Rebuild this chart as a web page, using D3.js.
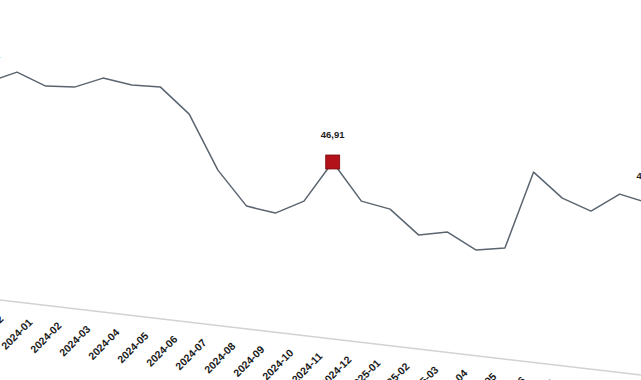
<!DOCTYPE html>
<html><head><meta charset="utf-8">
<script src="https://cdn.jsdelivr.net/npm/d3@7"></script>
<style>html,body{margin:0;padding:0;background:#fff;overflow:hidden}</style>
</head><body>
<svg id="c" width="641" height="380"></svg>
<script>
const months = ["2023-11","2023-12","2024-01","2024-02","2024-03","2024-04","2024-05","2024-06","2024-07","2024-08","2024-09","2024-10","2024-11","2024-12","2025-01","2025-02","2025-03","2025-04","2025-05","2025-06","2025-07","2025-08","2025-09","2025-10"];
const values = [54.91,55.9,54.5,54.4,55.3,54.6,54.4,51.7,46.1,42.5,41.8,43.0,46.91,43.0,42.2,39.6,39.9,38.1,38.3,45.9,43.3,42.0,43.7,42.8];
const labelled = ["2023-11","2024-11","2025-10"];
const highlight = ["2024-11"];

const svg = d3.select("#c");
const x = d3.scalePoint().domain(months).range([-11.7, 648.4]);
const y = d3.scaleLinear().domain([30, 60]).range([331.1, 31.1]);
const fmt = v => d3.format(".2f")(v).replace(".", ",");
const data = months.map((m, i) => ({m, v: values[i]}));

// axis (tilted)
const ax = d3.scalePoint().domain(months).range([-22.9, 648.7]);
const axisG = svg.append("g").attr("transform", "translate(0,300) rotate(6.68)");
axisG.append("line").attr("x1", -10).attr("x2", 720).attr("y1", 0).attr("y2", 0)
  .attr("stroke", "#d2d2d2").attr("stroke-width", 1.5);
axisG.selectAll("text.tick").data(months).join("text")
  .attr("class", "tick")
  .attr("transform", d => `translate(${ax(d)},19) rotate(-51.7)`)
  .attr("text-anchor", "end")
  .attr("font-family", "Liberation Sans, Arial, sans-serif")
  .attr("font-size", 10.5).attr("font-weight", "bold")
  .attr("fill", "#1a1a1a")
  .text(d => d);

// line
svg.append("path").datum(data)
  .attr("fill", "none").attr("stroke", "#5a6570").attr("stroke-width", 1.5)
  .attr("stroke-linejoin", "round")
  .attr("d", d3.line().x(d => x(d.m)).y(d => y(d.v)));

// highlighted marker
svg.selectAll("rect.mk").data(data.filter(d => highlight.includes(d.m))).join("rect")
  .attr("class", "mk")
  .attr("x", d => x(d.m) - 7).attr("y", d => y(d.v) - 7)
  .attr("width", 14).attr("height", 14)
  .attr("fill", "#b3121b").attr("stroke", "#7a0a10").attr("stroke-width", 0.8);

// labels
svg.selectAll("text.lb").data(data.filter(d => labelled.includes(d.m))).join("text")
  .attr("class", "lb")
  .attr("x", d => x(d.m)).attr("y", d => y(d.v) - 24)
  .attr("text-anchor", "middle")
  .attr("font-family", "Liberation Sans, Arial, sans-serif")
  .attr("font-size", 9.5).attr("font-weight", "bold")
  .attr("fill", "#1e1e1e")
  .text(d => fmt(d.v));
</script>
</body></html>
